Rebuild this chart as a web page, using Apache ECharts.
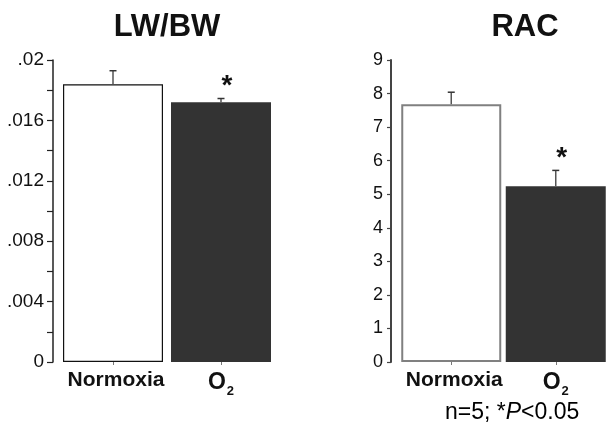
<!DOCTYPE html>
<html>
<head>
<meta charset="UTF-8">
<title>LW/BW and RAC</title>
<script src="https://cdn.jsdelivr.net/npm/echarts@6/dist/echarts.min.js"></script>
<style>
  html, body { margin: 0; padding: 0; background: #fff; }
  #chart { width: 608px; height: 448px; }
</style>
</head>
<body>
<div id="chart"></div>
<script>
var categories = ['Normoxia', 'O2'];
// LW/BW panel
var lwbwMeans = [0.01839, 0.0172];
var lwbwErrors = [0.0009, 0.00025];
var lwbwStars = [0, 1];
var lwbwTicks = ['0', '.004', '.008', '.012', '.016', '.02'];
// RAC panel
var racMeans = [7.68, 5.24];
var racErrors = [0.36, 0.47];
var racStars = [0, 1];

var FONT = 'Arial, "Liberation Sans", sans-serif';

var myChart = echarts.init(document.getElementById('chart'));

function barData(means, borderColor, borderWidth) {
    return means.map(function (v, i) {
        return {
            value: v,
            itemStyle: i === 0
                ? {color: '#fff', borderColor: borderColor, borderWidth: borderWidth}
                : {color: '#333333', borderWidth: 0}
        };
    });
}

function errData(means, errors, stars) {
    return means.map(function (v, i) { return [i, v, errors[i], stars[i]]; });
}

// error bar (upper whisker only) + significance star
function renderErr(params, api) {
    var base = api.coord([api.value(0), api.value(1)]);
    var top = api.coord([api.value(0), api.value(1) + api.value(2)]);
    var kids = [
        {type: 'line', shape: {x1: base[0], y1: base[1], x2: top[0], y2: top[1]},
         style: {stroke: '#555', lineWidth: 1.5}},
        {type: 'line', shape: {x1: top[0] - 3.5, y1: top[1], x2: top[0] + 3.5, y2: top[1]},
         style: {stroke: '#333', lineWidth: 1.5}}
    ];
    if (api.value(3)) {
        kids.push({type: 'text', style: {
            text: '*', x: top[0] + 6, y: top[1] - 12,
            textAlign: 'center', textVerticalAlign: 'middle',
            font: 'bold 28px ' + FONT, fill: '#111'
        }});
    }
    return {type: 'group', children: kids};
}

var catLabel = {
    margin: 7,
    color: '#111',
    formatter: function (v) {
        return v === 'O2' ? '{o|O}{s|2}' : '{n|' + v + '}';
    },
    rich: {
        n: {fontSize: 21, fontWeight: 'bold', fontFamily: FONT, color: '#111', lineHeight: 26, verticalAlign: 'top', padding: [1, 0, 0, 6]},
        o: {fontSize: 23, fontWeight: 'bold', fontFamily: FONT, color: '#111', lineHeight: 26, verticalAlign: 'top', padding: [2, 0, 0, 0]},
        s: {fontSize: 13, fontWeight: 'bold', fontFamily: FONT, color: '#111', lineHeight: 26, verticalAlign: 'top', padding: [16, 0, 0, 1]}
    }
};

option = {
    animation: false,
    backgroundColor: '#fff',
    graphic: [
        {type: 'text', x: 167, y: 27, style: {text: 'LW/BW', font: 'bold 31px ' + FONT, fill: '#111', textAlign: 'center', textVerticalAlign: 'middle'}},
        {type: 'text', x: 525, y: 27, style: {text: 'RAC', font: 'bold 31px ' + FONT, fill: '#111', textAlign: 'center', textVerticalAlign: 'middle'}},
        {type: 'text', x: 445, y: 413, style: {
            text: '{r|n=5; *}{i|P}{r|<0.05}', textVerticalAlign: 'middle',
            rich: {
                r: {fontSize: 23, fontFamily: FONT, color: '#222'},
                i: {fontSize: 23, fontFamily: FONT, fontStyle: 'italic', color: '#222'}
            }
        }}
    ],
    grid: [
        {left: 59, top: 60, width: 216, height: 302},
        {left: 399, top: 60, width: 217, height: 302}
    ],
    xAxis: [
        {type: 'category', gridIndex: 0, data: categories,
         axisLine: {show: false},
         axisTick: {show: true, alignWithLabel: true, length: 3, lineStyle: {color: '#777'}},
         axisLabel: catLabel},
        {type: 'category', gridIndex: 1, data: categories,
         axisLine: {show: false},
         axisTick: {show: true, alignWithLabel: true, length: 3, lineStyle: {color: '#777'}},
         axisLabel: catLabel}
    ],
    yAxis: [
        {type: 'value', gridIndex: 0, min: 0, max: 0.02, interval: 0.002, offset: 6,
         splitLine: {show: false},
         axisLine: {show: true, lineStyle: {color: '#222', width: 1.5}},
         axisTick: {show: true, length: 6, lineStyle: {color: '#222', width: 1.2}},
         axisLabel: {
             margin: 9, fontSize: 19, fontFamily: FONT, color: '#111',
             formatter: function (v, idx) { return idx % 2 === 0 ? lwbwTicks[idx / 2] : ''; }
         }},
        {type: 'value', gridIndex: 1, min: 0, max: 9, interval: 1, offset: 8,
         splitLine: {show: false},
         axisLine: {show: true, lineStyle: {color: '#444', width: 2}},
         axisTick: {show: true, length: 4, lineStyle: {color: '#444', width: 1.2}},
         axisLabel: {margin: 8, fontSize: 18, fontFamily: FONT, color: '#111'}}
    ],
    series: [
        {type: 'bar', xAxisIndex: 0, yAxisIndex: 0, barWidth: 100,
         data: barData(lwbwMeans, '#111', 1.2)},
        {type: 'custom', xAxisIndex: 0, yAxisIndex: 0, z: 5,
         renderItem: renderErr, data: errData(lwbwMeans, lwbwErrors, lwbwStars)},
        {type: 'bar', xAxisIndex: 1, yAxisIndex: 1, barWidth: 100,
         data: barData(racMeans, '#808080', 2)},
        {type: 'custom', xAxisIndex: 1, yAxisIndex: 1, z: 5,
         renderItem: renderErr, data: errData(racMeans, racErrors, racStars)}
    ]
};
myChart.setOption(option);
</script>
</body>
</html>
